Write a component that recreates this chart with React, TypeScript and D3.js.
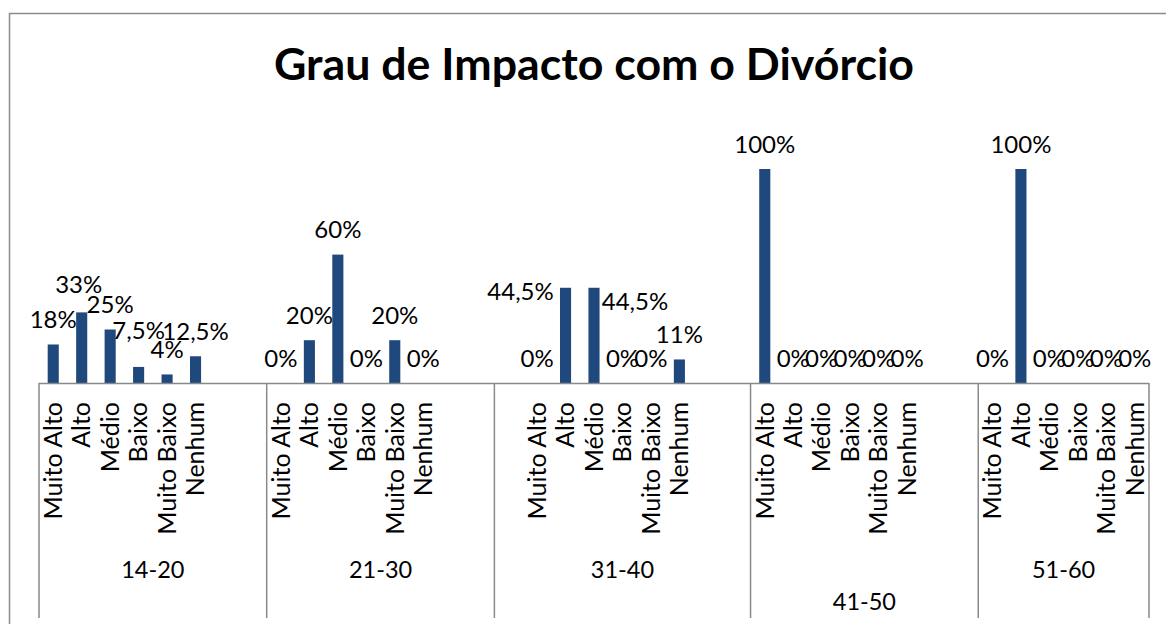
import React from "react";
import * as d3 from "d3";

const title = "Grau de Impacto com o Divórcio";
const groups = ["14-20", "21-30", "31-40", "41-50", "51-60"];
const levels = ["Muito Alto", "Alto", "Médio", "Baixo", "Muito Baixo", "Nenhum"];
// empty category slots in the source sheet before / after each group's six levels
const leadingBlanks = [0, 0, 1, 0, 0];
const trailingBlanks = [2, 2, 2, 2, 0];
const values1420 = [18, 33, 25, 7.5, 4, 12.5];
const values2130 = [0, 20, 60, 0, 20, 0];
const values3140 = [0, 44.5, 44.5, 0, 0, 11];
const values4150 = [100, 0, 0, 0, 0, 0];
const values5160 = [0, 100, 0, 0, 0, 0];
const groupValues = [values1420, values2130, values3140, values4150, values5160];
const groupLabelRow = [0, 0, 0, 1, 0];
// data label nudges (label collision handling in the original)
const labelNudges = [
  { g: 0, c: 1, dx: -3, dy: -3 },
  { g: 0, c: 3, dx: 0, dy: -11 },
  { g: 2, c: 1, dx: -45, dy: 29 },
  { g: 2, c: 2, dx: 41, dy: 39 },
];

const W = 1166;
const H = 624;
const FONT = "Lato, 'Open Sans', sans-serif";
const BAR = "#1F497D";
const GRID = "#898989";

export default function App() {
  type Slot = { g: number; c: number; key: string };
  const slots: Slot[] = [];
  groups.forEach((_, gi) => {
    for (let i = 0; i < leadingBlanks[gi]; i++) slots.push({ g: gi, c: -1, key: `${gi}-l${i}` });
    levels.forEach((_, ci) => slots.push({ g: gi, c: ci, key: `${gi}-${ci}` }));
    for (let i = 0; i < trailingBlanks[gi]; i++) slots.push({ g: gi, c: -1, key: `${gi}-t${i}` });
  });

  const axisY = 383;
  const x = d3.scaleBand<string>().domain(slots.map((s) => s.key)).range([39, 1149]).padding(0);
  const y = d3.scaleLinear().domain([0, 120]).range([axisY, axisY - 1.2 * 214]);
  const step = x.step();
  const bw = step * 0.39;

  const fmt = (v: number) => String(v).replace(".", ",") + "%";

  const groupBounds = groups.map((_, gi) => {
    const gs = slots.filter((s) => s.g === gi);
    const x0 = x(gs[0].key)!;
    const x1 = x(gs[gs.length - 1].key)! + step;
    return [x0, x1];
  });

  const bars = slots.filter((s) => s.c >= 0);

  return (
    <svg width={W} height={H} style={{ position: "absolute", left: 0, top: 0, background: "#fff" }}>
      <rect x={9.5} y={13.5} width={1200} height={700} fill="#fff" stroke="#8c8c8c" strokeWidth={1.5} />
      <text x={594} y={80} textAnchor="middle" fontFamily={FONT} fontWeight={700} fontSize={44.7} fill="#000">
        {title}
      </text>
      {bars.map((s) => {
        const v = groupValues[s.g][s.c];
        const cx = x(s.key)! + step / 2;
        return (
          <rect key={"b" + s.key} x={cx - bw / 2} y={y(v)} width={bw} height={axisY - y(v)} fill={BAR} />
        );
      })}
      {bars.map((s) => {
        const v = groupValues[s.g][s.c];
        const cx = x(s.key)! + step / 2;
        const n = labelNudges.find((d) => d.g === s.g && d.c === s.c);
        return (
          <text
            key={"l" + s.key}
            x={cx + (n ? n.dx : 0)}
            y={y(v) - 16.5 + (n ? n.dy : 0)}
            textAnchor="middle"
            fontFamily={FONT}
            fontSize={24}
            fill="#000"
          >
            {fmt(v)}
          </text>
        );
      })}
      <line x1={39} x2={1149} y1={axisY + 0.5} y2={axisY + 0.5} stroke={GRID} strokeWidth={1.5} />
      {[groupBounds[0][0], ...groupBounds.map((b) => b[1])].map((bx, i) => (
        <line key={"sep" + i} x1={bx} x2={bx} y1={axisY} y2={618} stroke={GRID} strokeWidth={1.5} />
      ))}
      {bars.map((s) => {
        const cx = x(s.key)! + step / 2;
        return (
          <text
            key={"c" + s.key}
            transform={`translate(${cx},402) rotate(-90)`}
            dy="0.35em"
            textAnchor="end"
            fontFamily={FONT}
            fontSize={25}
            fill="#000"
          >
            {levels[s.c]}
          </text>
        );
      })}
      {groups.map((g, gi) => (
        <text
          key={"g" + gi}
          x={(groupBounds[gi][0] + groupBounds[gi][1]) / 2}
          y={groupLabelRow[gi] ? 610 : 578}
          textAnchor="middle"
          fontFamily={FONT}
          fontSize={23.5}
          fill="#000"
        >
          {g}
        </text>
      ))}
    </svg>
  );
}
